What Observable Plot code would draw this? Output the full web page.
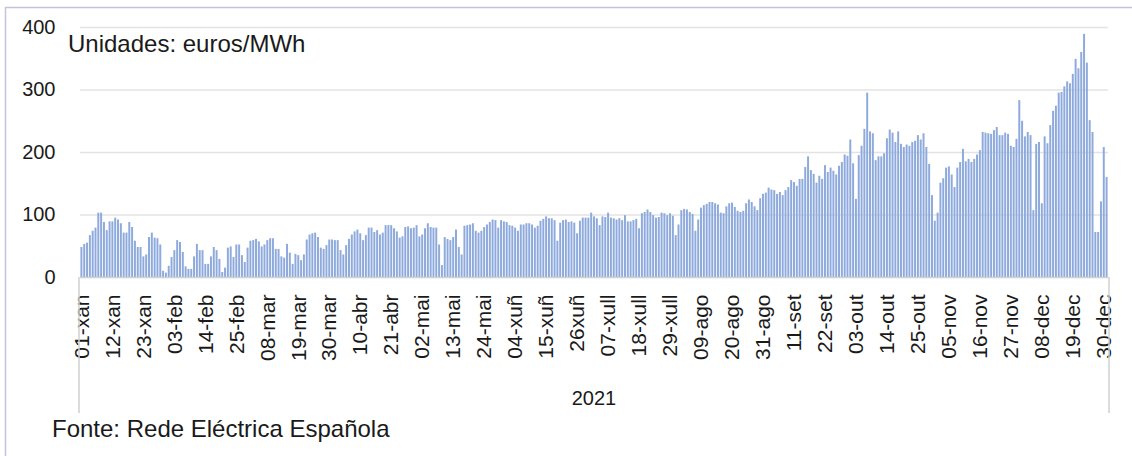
<!DOCTYPE html>
<html><head><meta charset="utf-8">
<script src="https://cdn.jsdelivr.net/npm/d3@7"></script>
<script src="https://cdn.jsdelivr.net/npm/@observablehq/plot@0.6"></script>
<style>body{margin:0;background:#fff;} svg{display:block}</style>
</head><body><div id="chart"></div>
<script>
// Daily electricity price, Spain 2021 (euros/MWh)
const jan = [48,53,55,67,74,79,103,103,88,75,89,89,95,92,86,71,71,88,80,58,48,48,33,36,64,71,63,62,52,10,7];
const feb = [18,32,43,59,56,40,17,13,13,33,53,43,43,21,21,33,48,43,29,8,15,47,49,32,52,52,35,24];
const mar = [47,58,59,61,57,49,52,59,62,62,45,45,33,31,53,39,21,37,35,27,36,60,68,70,71,64,47,45,51,60,60];
const apr = [59,59,43,36,51,61,68,73,76,70,59,67,79,79,72,75,68,71,83,83,83,78,73,63,65,80,81,78,79,83];
const may = [65,68,78,86,80,79,79,52,19,64,61,59,64,76,48,36,82,83,84,86,74,71,74,80,84,88,92,91,79,91,89];
const jun = [88,83,82,79,74,84,84,86,86,84,79,82,90,93,97,94,94,91,58,87,91,92,88,89,87,70,90,95,95,95];
const jul = [103,97,94,83,97,96,103,95,94,92,94,91,99,89,89,91,93,78,102,104,108,104,99,95,96,103,102,99,102,98,67];
const aug = [84,107,109,108,104,101,74,92,111,115,117,120,120,118,116,103,102,113,118,119,112,106,104,106,118,124,120,113,107,126,133];
const sep = [135,143,140,139,133,136,131,139,144,155,152,146,157,157,176,193,171,165,151,162,157,179,168,175,170,164,178,184,196,194];
const oct = [220,182,125,195,210,237,295,233,230,187,193,193,198,222,236,231,216,233,213,208,212,210,216,218,227,220,230,208,181,131,90];
const nov = [103,151,158,175,177,164,144,175,184,205,185,189,184,189,196,203,232,231,230,229,235,240,227,227,231,229,210,208,221,283];
const dec = [250,225,232,227,107,213,216,118,225,214,243,266,274,295,296,305,313,310,325,349,334,360,389,343,251,232,72,72,121,208,160];

const tickLabels = ["01-xan","12-xan","23-xan","03-feb","14-feb","25-feb","08-mar","19-mar","30-mar","10-abr","21-abr","02-mai","13-mai","24-mai","04-xuñ","15-xuñ","26xuñ","07-xull","18-xull","29-xull","09-ago","20-ago","31-ago","11-set","22-set","03-out","14-out","25-out","05-nov","16-nov","27-nov","08-dec","19-dec","30-dec"];
const yTicks = [0,100,200,300,400];
const unitsText = "Unidades: euros/MWh";
const groupLabel = "2021";
const sourceText = "Fonte: Rede Eléctrica Española";

const values = [jan,feb,mar,apr,may,jun,jul,aug,sep,oct,nov,dec].flat();
const data = values.map((v, i) => ({day: i, price: v}));
const tickDays = tickLabels.map((_, i) => i * 11);
const tickMap = new Map(tickDays.map((d, i) => [d, tickLabels[i]]));

const FONT = "'Liberation Sans', Arial, sans-serif";
const plot = Plot.plot({
  width: 1132, height: 456,
  marginTop: 27, marginBottom: 179, marginLeft: 80, marginRight: 24,
  style: {fontFamily: FONT, background: "#fff", color: "#1a1a1a"},
  x: {type: "band", domain: values.map((_, i) => i), paddingInner: 0.3, paddingOuter: 0.15},
  y: {domain: [0, 400]},
  marks: [
    Plot.ruleY(yTicks.slice(1), {stroke: "#e3e3e3", strokeWidth: 1.5}),
    Plot.barY(data, {x: "day", y: "price", fill: "#8eaadc"}),
    Plot.ruleY([0], {stroke: "#d0d0d0", strokeWidth: 1.5}),
    Plot.axisY({ticks: yTicks, tickSize: 0, tickPadding: 25, fontSize: 20, label: null}),
    Plot.axisX({ticks: tickDays, tickFormat: d => tickMap.get(d), tickRotate: -90, tickSize: 0, tickPadding: 17, fontSize: 21, label: null})
  ]
});

const svg = d3.select(plot);
const [x0, x1] = plot.scale("x").range;
const yBase = plot.scale("y").apply(0);
// category separators below axis
svg.append("g").attr("stroke", "#d0d0d0").attr("stroke-width", 1.5)
  .selectAll("line").data([x0 - 1, x1 + 1]).join("line")
  .attr("x1", d => d).attr("x2", d => d).attr("y1", yBase).attr("y2", 413);
// frame
svg.append("line").attr("x1", 5.5).attr("x2", 5.5).attr("y1", 7).attr("y2", 456).attr("stroke", "#c3c4da").attr("stroke-width", 1.5);
svg.append("line").attr("x1", 5).attr("x2", 1132).attr("y1", 7.5).attr("y2", 7.5).attr("stroke", "#c3c4da").attr("stroke-width", 1.5);
// texts
svg.append("text").attr("x", 68).attr("y", 52).attr("text-anchor", "start").attr("font-size", 24).attr("fill", "#1a1a1a").attr("font-family", FONT).text(unitsText);
svg.append("text").attr("x", (x0 + x1) / 2).attr("y", 405).attr("text-anchor", "middle").attr("font-size", 20).attr("fill", "#1a1a1a").attr("font-family", FONT).text(groupLabel);
svg.append("text").attr("x", 52).attr("y", 437).attr("text-anchor", "start").attr("font-size", 24).attr("fill", "#1a1a1a").attr("font-family", FONT).text(sourceText);

document.getElementById("chart").appendChild(plot);
</script>
</body></html>
